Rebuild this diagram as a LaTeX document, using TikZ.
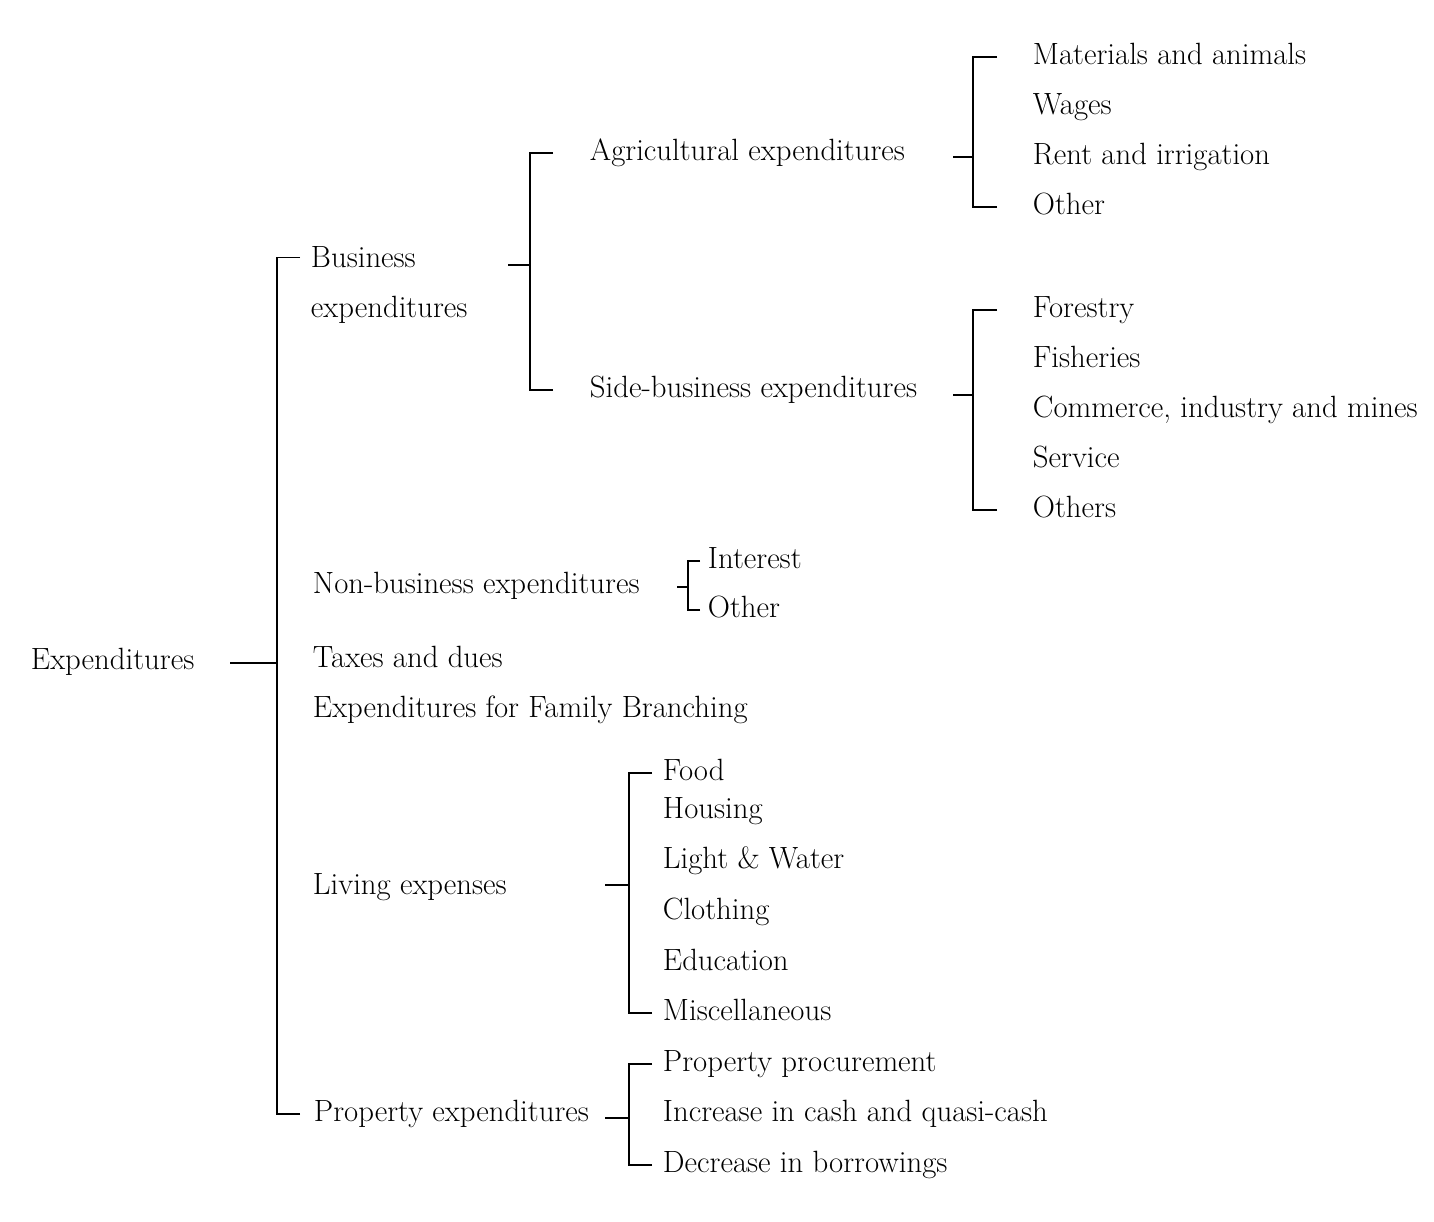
\documentclass[tikz,border=0pt]{standalone}
\usetikzlibrary{positioning}
\begin{document}
\begin{tikzpicture}[x=0.02cm, y=-0.02cm, line width=1.1pt,
             txt/.style = {anchor=west, inner sep=0pt, text height=12pt, text depth=3.8pt, font=\fontsize{17.5}{21}\selectfont},
           twotxt/.style = {anchor=west, inner sep=0pt, align=left, font=\fontsize{17.5}{21}\selectfont},
          nextitem/.style = {txt, below=#1, anchor=west},
]
\useasboundingbox (0,0) rectangle (1434,1222);
%% first level
\node [txt]    (exp)    at (30,662)  {Expenditures};
\node [twotxt] (bus)    at (310,285) {Business\\[7.5pt]expenditures};
\node [txt]    (nonbus) at (312,586) {Non-business expenditures};
\node [txt]    (tax)    at (312,660) {Taxes and dues};
\node [nextitem=1cm of tax.west]     (fam)    {Expenditures for Family Branching};
\node [txt]    (living) at (312,887) {Living expenses};
\node [txt]    (prop)   at (313,1114) {Property expenditures};
%% business
\node [txt]    (agri)   at (589,153) {Agricultural expenditures};
\node [txt]    (side)   at (589,390) {Side-business expenditures};
\node [txt]    (mat)    at (1032,57) {Materials and animals};
\node [nextitem=1cm of mat.west]     (wag)    {Wages};
\node [nextitem=1cm of wag.west]     (rent)   {Rent and irrigation};
\node [nextitem=1cm of rent.west]    (oth)    {Other};
\node [txt]    (forest) at (1032,310) {Forestry};
\node [nextitem=1cm of forest.west]  (fish)   {Fisheries};
\node [nextitem=1cm of fish.west]    (comm)   {Commerce, industry and mines};
\node [nextitem=1cm of comm.west]    (serv)   {Service};
\node [nextitem=1cm of serv.west]    (others) {Others};
%% non-business
\node [txt]    (int)    at (707,561) {Interest};
\node [nextitem=0.98cm of int.west]  (oth2)   {Other};
%% living
\node [txt]    (food)   at (662,773) {Food};
\node [nextitem=0.76cm of food.west] (house)  {Housing};
\node [nextitem=1cm of house.west]   (light)  {Light \& Water};
\node [nextitem=1.02cm of light.west] (cloth) {Clothing};
\node [nextitem=1.02cm of cloth.west] (edu)   {Education};
\node [nextitem=1cm of edu.west]     (misc)   {Miscellaneous};
%% property
\node [txt]    (proc)   at (662,1064) {Property procurement};
\node [nextitem=1cm of proc.west]    (incr)   {Increase in cash and quasi-cash};
\node [nextitem=1.02cm of incr.west] (borr)   {Decrease in borrowings};
%% brackets
\coordinate (exp-br)  at (277,663);
\coordinate (bus-br)  at (530,265);
\coordinate (agri-br) at (973,157);
\coordinate (side-br) at (973,395);
\coordinate (non-br)  at (688,587);
\coordinate (liv-br)  at (629,885);
\coordinate (prop-br) at (629,1118);
\draw (exp-br) -- ++(-47,0);
\draw (bus.north west) ++(-10,12) -| (exp-br);
\draw (prop.west) ++(-13,0) -| (exp-br);
\draw (bus-br) -- ++(-22,0);
\draw (agri.west) ++(-36,0) -| (bus-br);
\draw (side.west) ++(-36,0) -| (bus-br);
\draw (agri-br) -- ++(-20,0);
\draw (mat.west) ++(-35,0) -| (agri-br);
\draw (oth.west) ++(-35,0) -| (agri-br);
\draw (side-br) -- ++(-20,0);
\draw (forest.west) ++(-35,0) -| (side-br);
\draw (others.west) ++(-35,0) -| (side-br);
\draw (non-br) -- ++(-11,0);
\draw (int.west) ++(-7,0) -| (non-br);
\draw (oth2.west) ++(-7,0) -| (non-br);
\draw (liv-br) -- ++(-24,0);
\draw (food.west) ++(-10,0) -| (liv-br);
\draw (misc.west) ++(-10,0) -| (liv-br);
\draw (prop-br) -- ++(-24,0);
\draw (proc.west) ++(-10,0) -| (prop-br);
\draw (borr.west) ++(-10,0) -| (prop-br);
\end{tikzpicture}
\end{document}
